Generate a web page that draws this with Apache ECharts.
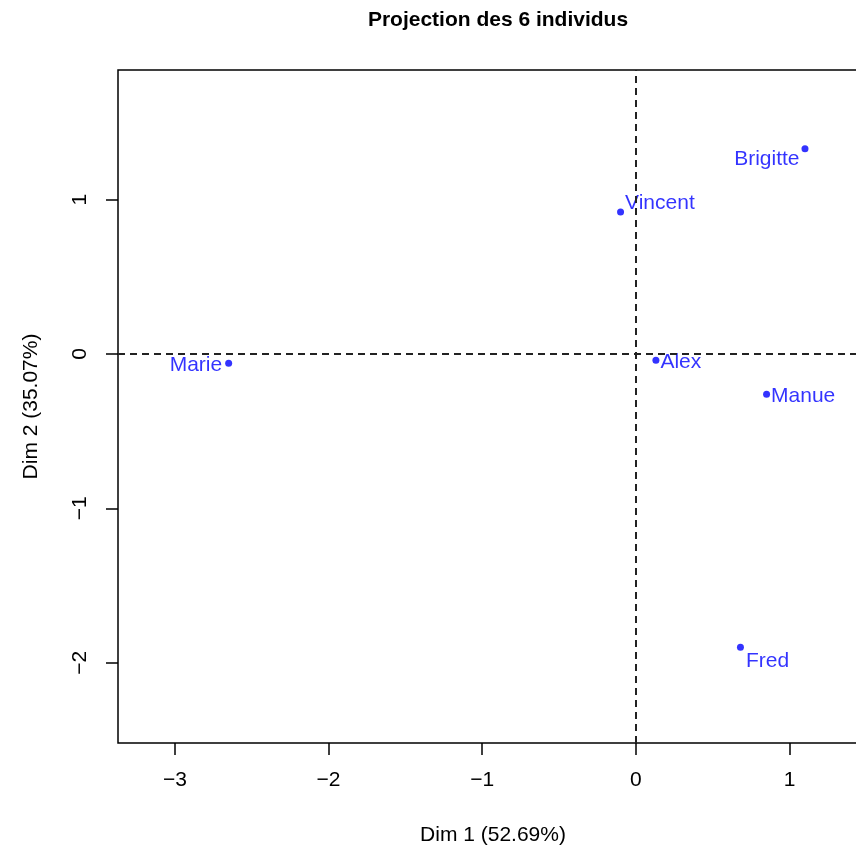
<!DOCTYPE html>
<html>
<head>
<meta charset="utf-8">
<script src="https://cdn.jsdelivr.net/npm/echarts@6/dist/echarts.min.js"></script>
<style>html,body{margin:0;padding:0;background:#fff}#c{width:856px;height:848px}</style>
</head>
<body>
<div id="c"></div>
<script>
// ---- data ----
const individus = ['Brigitte', 'Vincent', 'Marie', 'Alex', 'Manue', 'Fred'];
const dim1 = [1.10, -0.10, -2.65, 0.13, 0.85, 0.68];
const dim2 = [1.33, 0.92, -0.06, -0.04, -0.26, -1.90];
const xTicks = [-3, -2, -1, 0, 1];
const yTicks = [-2, -1, 0, 1];
const titleText = 'Projection des 6 individus';
const xName = 'Dim 1 (52.69%)';
const yName = 'Dim 2 (35.07%)';

// ---- label placement (style) ----
const labelPlace = {
  Brigitte: { position: 'left', distance: 2, offset: [0, 10] },
  Vincent: { position: 'right', distance: 1, offset: [0, -9] },
  Marie: { position: 'left', distance: 3, offset: [0, 2] },
  Alex: { position: 'right', distance: 1, offset: [0, 2] },
  Manue: { position: 'right', distance: 1, offset: [0, 2] },
  Fred: { position: 'right', distance: 2, offset: [0, 14] }
};

const FONT = '"Liberation Sans", Arial, sans-serif';
const minus = v => String(v).replace('-', '\u2212');

const points = individus.map((n, i) => ({
  name: n,
  value: [dim1[i], dim2[i]],
  label: Object.assign({ show: true }, labelPlace[n])
}));

const chart = echarts.init(document.getElementById('c'), null, { renderer: 'canvas' });
chart.setOption({
  animation: false,
  backgroundColor: '#fff',
  title: {
    text: titleText,
    left: 493,
    top: 5,
    textAlign: 'center',
    textStyle: { fontFamily: FONT, fontSize: 21, fontWeight: 'bold', color: '#000' }
  },
  grid: {
    left: 118, top: 70, right: -12, bottom: 105,
    outerBoundsMode: 'none',
    containLabel: false,
    show: true, borderColor: '#000', borderWidth: 1.5, backgroundColor: 'transparent'
  },
  xAxis: {
    type: 'value', min: -3.37, max: 1.51,
    name: xName, nameLocation: 'middle', nameGap: 82,
    nameTextStyle: { fontFamily: FONT, fontSize: 21, color: '#000' },
    axisLine: { show: false, onZero: false },
    splitLine: { show: false },
    axisTick: { show: true, customValues: xTicks, length: 12, lineStyle: { color: '#000', width: 1.5 } },
    axisLabel: { customValues: xTicks, formatter: minus, margin: 27, fontFamily: FONT, fontSize: 21, color: '#000' }
  },
  yAxis: {
    type: 'value', min: -2.52, max: 1.84,
    name: yName, nameLocation: 'middle', nameGap: 76,
    nameTextStyle: { fontFamily: FONT, fontSize: 21, color: '#000' },
    axisLine: { show: false, onZero: false },
    splitLine: { show: false },
    axisTick: { show: true, customValues: yTicks, length: 12, lineStyle: { color: '#000', width: 1.5 } },
    axisLabel: { customValues: yTicks, formatter: minus, rotate: 90, margin: 27, fontFamily: FONT, fontSize: 21, color: '#000' }
  },
  series: [{
    type: 'scatter',
    data: points,
    symbol: 'circle',
    symbolSize: 7,
    itemStyle: { color: '#0000ff' },
    label: {
      show: true,
      formatter: p => p.name,
      color: '#0000ff',
      fontFamily: FONT,
      fontSize: 21
    },
    markLine: {
      silent: true,
      symbol: 'none',
      label: { show: false },
      lineStyle: { type: [7, 5], color: '#222', width: 2 },
      data: [{ xAxis: 0 }, { yAxis: 0 }]
    },
    z: 3
  }]
});
</script>
</body>
</html>
